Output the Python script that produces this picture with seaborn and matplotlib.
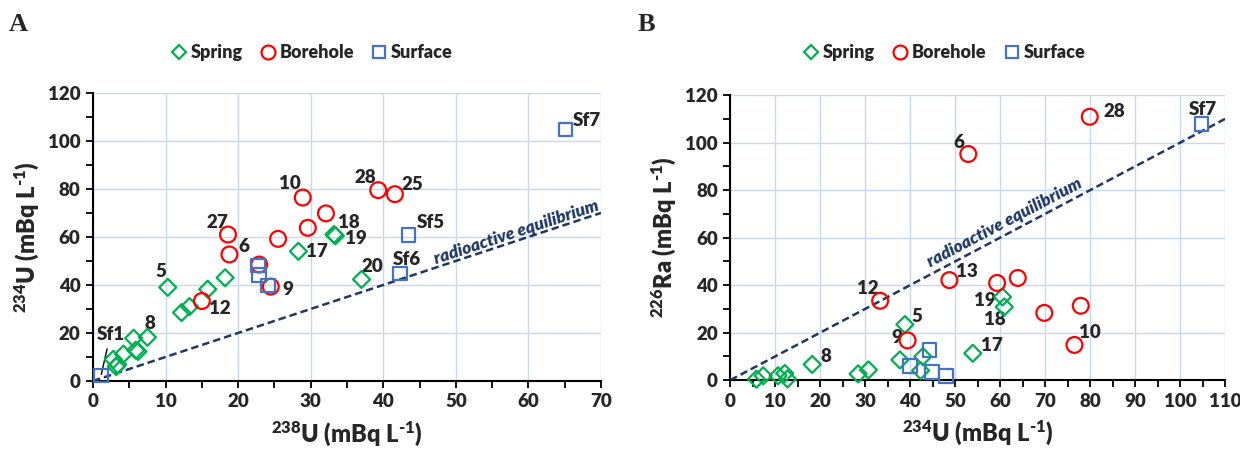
import numpy as np
import pandas as pd
import matplotlib
matplotlib.use('Agg')
import matplotlib.pyplot as plt
from matplotlib.lines import Line2D
from matplotlib.ticker import MultipleLocator
import seaborn as sns

# %% data - panel A (238U vs 234U)
spring_a_x = [2.8, 3.2, 3.4, 4.2, 5.6, 5.9, 6.2, 7.5, 10.3, 12.2, 13.3, 15.8, 18.2, 28.3, 33.2, 33.4, 37.0]
spring_a_y = [9.0, 6.0, 6.8, 11.2, 17.8, 12.8, 12.3, 18.2, 39.0, 28.5, 31.0, 38.2, 43.0, 54.0, 61.0, 60.5, 42.3]
spring_a_id = ['', '', '', '', '', '', '', '8', '5', '', '', '', '', '17', '18', '19', '20']

borehole_a_x = [15.0, 18.6, 18.8, 22.9, 24.5, 25.5, 28.9, 29.6, 32.1, 39.3, 41.6]
borehole_a_y = [33.3, 61.0, 52.7, 48.5, 39.3, 59.2, 76.4, 63.8, 69.8, 79.5, 77.8]
borehole_a_id = ['12', '27', '6', '', '9', '', '10', '', '', '28', '25']

surface_a_x = [1.1, 22.7, 22.9, 24.1, 43.5, 42.3, 65.1]
surface_a_y = [2.2, 48.0, 44.1, 39.7, 60.7, 44.8, 104.7]
surface_a_id = ['Sf1', '', '', '', 'Sf5', 'Sf6', 'Sf7']

# %% data - panel B (234U vs 226Ra)
spring_b_x = [5.8, 7.3, 10.6, 12.1, 12.7, 18.2, 28.4, 30.7, 37.7, 38.8, 42.3, 42.8, 53.9, 60.5, 60.9]
spring_b_y = [0.4, 1.8, 1.8, 2.8, 0.5, 6.6, 2.6, 4.3, 8.5, 23.4, 4.0, 9.9, 11.3, 35.0, 30.8]
spring_b_id = ['', '', '', '', '', '8', '', '', '', '5', '', '', '17', '19', '18']

borehole_b_x = [33.3, 39.4, 48.7, 52.9, 59.3, 63.9, 69.8, 76.5, 77.9, 79.9]
borehole_b_y = [33.4, 16.7, 42.1, 95.2, 40.9, 43.0, 28.3, 14.8, 31.3, 110.9]
borehole_b_id = ['12', '9', '13', '6', '', '', '', '10', '', '28']

surface_b_x = [39.9, 44.3, 44.8, 48.0, 104.7]
surface_b_y = [6.0, 12.7, 3.5, 1.8, 107.8]
surface_b_id = ['', '', '', '', 'Sf7']

eq_a = [0, 70]
eq_b = [0, 110]

# %% label offsets (points) relative to the marker
offs_a = {'8': (1.6, 10), '5': (-5.2, 11.2), '17': (13.5, 0), '18': (10.4, 8.5),
          '19': (15.1, -1.9), '20': (7.8, 9.5), '12': (13, -5.4), '27': (-7.3, 8.5),
          '6': (10.4, 5.5), '9': (12.5, -2.1), '10': (-9.4, 9.8), '28': (-9.4, 8.8),
          '25': (12.5, 6.9), 'Sf5': (15.6, 9), 'Sf6': (4.7, 10), 'Sf7': (15.6, 6.7)}
offs_b = {'8': (10, 6), '5': (8.7, 6), '17': (13.9, 5.5), '19': (-13, -2.2),
          '18': (-7.1, -9.4), '12': (-9.1, 8.9), '9': (-8.1, 2.2), '13': (12.6, 6),
          '6': (-6.5, 8.4), '10': (11, 8.7), '28': (18.1, 4.1), 'Sf7': (1.3, 10.6)}

# %% style
sns.set_style('ticks')
plt.rcParams['font.family'] = ['Lato', 'DejaVu Sans']
plt.rcParams['font.weight'] = 'heavy'
plt.rcParams['mathtext.fontset'] = 'custom'
plt.rcParams['mathtext.rm'] = 'Lato:heavy'
plt.rcParams['mathtext.default'] = 'rm'

GREEN = '#00B050'
RED = '#FF0000'
BLUE = '#4472C4'
NAVY = '#1F3864'
GRID = '#C5D9F1'
W = 'heavy'

fig = plt.figure(figsize=(12.4, 4.53), dpi=100)
ax_a = fig.add_axes([0.075, 0.159, 0.4097, 0.636])
ax_b = fig.add_axes([0.589, 0.161, 0.399, 0.629])


def draw_panel(ax, groups, offs, eq, xmax, xstep, xlabel, ylabel, eq_pos):
    for xs, ys, ids, mk, col, sz in groups:
        df = pd.DataFrame({'x': xs, 'y': ys})
        sns.scatterplot(data=df, x='x', y='y', marker=mk, s=sz, color=col,
                        facecolor='none', edgecolor=col, linewidth=1.6,
                        ax=ax, clip_on=False, zorder=4)
        for x, y, t in zip(xs, ys, ids):
            if t and t in offs:
                ax.annotate(t, (x, y), xytext=offs[t], textcoords='offset points',
                            ha='center', va='center', fontsize=13.5, fontweight=W)
    sns.lineplot(x=eq, y=eq, ax=ax, color=NAVY, lw=1.8, linestyle=(0, (3, 1.6)), zorder=3)
    ax.text(eq_pos[0], eq_pos[1], 'radioactive equilibrium', rotation=45,
            transform_rotates_text=True, rotation_mode='anchor', ha='center', va='center',
            fontsize=12.5, fontstyle='italic', fontweight=W, color=NAVY)
    ax.set_xlim(0, xmax)
    ax.set_ylim(0, 120)
    ax.xaxis.set_major_locator(MultipleLocator(xstep))
    ax.xaxis.set_minor_locator(MultipleLocator(5))
    ax.yaxis.set_major_locator(MultipleLocator(20))
    ax.yaxis.set_minor_locator(MultipleLocator(10))
    ax.grid(True, which='major', color=GRID, lw=1)
    ax.set_axisbelow(True)
    ax.tick_params(which='both', direction='out', length=5, width=1.3, color='black',
                   labelsize=13.5, pad=4)
    for lab in ax.get_xticklabels() + ax.get_yticklabels():
        lab.set_fontweight(W)
    for s in ['top', 'right']:
        ax.spines[s].set_visible(False)
    for s in ['left', 'bottom']:
        ax.spines[s].set_linewidth(1.5)
        ax.spines[s].set_color('black')
    ax.set_xlabel(xlabel, fontsize=17, fontweight=W, labelpad=6)
    ax.set_ylabel(ylabel, fontsize=17, fontweight=W, labelpad=5)


draw_panel(ax_a,
           [(spring_a_x, spring_a_y, spring_a_id, 'D', GREEN, 75),
            (borehole_a_x, borehole_a_y, borehole_a_id, 'o', RED, 130),
            (surface_a_x, surface_a_y, surface_a_id, 's', BLUE, 95)],
           offs_a, eq_a, 70, 10,
           r'$^{238}$U (mBq L$^{\text{-}1}$)', r'$^{234}$U (mBq L$^{\text{-}1}$)', (58.3, 61.8))
ax_a.annotate('Sf1', (surface_a_x[0], surface_a_y[0]), xytext=(2.4, 19.4),
              ha='center', va='center', fontsize=13.5, fontweight=W,
              arrowprops=dict(arrowstyle='-', color='black', lw=1, shrinkA=2, shrinkB=1))

draw_panel(ax_b,
           [(spring_b_x, spring_b_y, spring_b_id, 'D', GREEN, 75),
            (borehole_b_x, borehole_b_y, borehole_b_id, 'o', RED, 130),
            (surface_b_x, surface_b_y, surface_b_id, 's', BLUE, 95)],
           offs_b, eq_b, 110, 10,
           r'$^{234}$U (mBq L$^{\text{-}1}$)', r'$^{226}$Ra (mBq L$^{\text{-}1}$)', (60.9, 66.4))

# legends
handles = [Line2D([], [], ls='', marker='D', ms=7, mfc='none', mec=GREEN, mew=1.6, label='Spring'),
           Line2D([], [], ls='', marker='o', ms=10, mfc='none', mec=RED, mew=1.6, label='Borehole'),
           Line2D([], [], ls='', marker='s', ms=9, mfc='none', mec=BLUE, mew=1.6, label='Surface')]
for cx in [0.251, 0.761]:
    fig.legend(handles=handles, loc='center', bbox_to_anchor=(cx, 0.884), ncol=3,
               frameon=False, handletextpad=0.15, columnspacing=0.9,
               handlelength=1.0, prop={'weight': W, 'size': 13})

fig.text(0.007, 0.932, 'A', fontsize=19, fontweight='bold', family='Liberation Serif', va='baseline')
fig.text(0.514, 0.932, 'B', fontsize=19, fontweight='bold', family='Liberation Serif', va='baseline')

fig.savefig('out.png', dpi=100)
